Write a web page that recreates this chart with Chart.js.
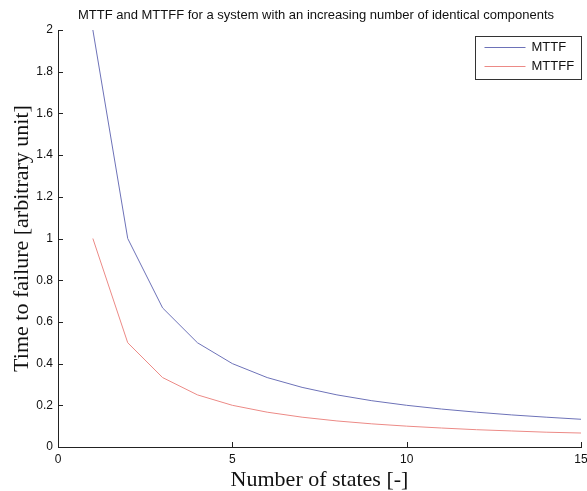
<!DOCTYPE html>
<html>
<head>
<meta charset="utf-8">
<script src="https://cdn.jsdelivr.net/npm/chart.js@4.4.1/dist/chart.umd.min.js"></script>
<style>
  html, body { margin: 0; padding: 0; background: #fff; }
  #wrap { width: 587px; height: 491px; position: relative; }
</style>
</head>
<body>
<div id="wrap"><canvas id="c"></canvas></div>
<script>
// ── Data ──────────────────────────────────────────────────────
const states = [1, 2, 3, 4, 5, 6, 7, 8, 9, 10, 11, 12, 13, 14, 15];
const mttf   = [2, 1, 0.667, 0.5, 0.4, 0.333, 0.286, 0.25, 0.222, 0.2, 0.182, 0.167, 0.154, 0.143, 0.133];
const mttff  = [1, 0.5, 0.333, 0.25, 0.2, 0.167, 0.143, 0.125, 0.111, 0.1, 0.091, 0.083, 0.077, 0.071, 0.067];
const xTicks = [0, 5, 10, 15];
const yTicks = [0, 0.2, 0.4, 0.6, 0.8, 1, 1.2, 1.4, 1.6, 1.8, 2];
const seriesNames = ['MTTF', 'MTTFF'];
const seriesColors = ['#6d72b8', '#ec8a86'];
const chartTitle = 'MTTF and MTTFF for a system with an increasing number of identical components';

const SANS = '"Liberation Sans", Arial, sans-serif';
const SERIF = '"Liberation Serif", "Times New Roman", serif';

// title, inward ticks (MATLAB style) and boxed legend
const matlabDecor = {
    id: 'matlabDecor',
    afterDraw(chart) {
        const { ctx, chartArea: a, scales: { x, y } } = chart;
        ctx.save();

        ctx.font = '13px ' + SANS;
        ctx.fillStyle = '#111';
        ctx.textAlign = 'center';
        ctx.textBaseline = 'middle';
        ctx.fillText(chartTitle, 316, 15);

        ctx.strokeStyle = '#222';
        ctx.lineWidth = 1;
        ctx.beginPath();
        yTicks.forEach(v => {
            const py = Math.round(y.getPixelForValue(v)) + 0.5;
            ctx.moveTo(a.left, py); ctx.lineTo(a.left + 5, py);
        });
        xTicks.forEach(v => {
            const px = Math.round(x.getPixelForValue(v)) + 0.5;
            ctx.moveTo(px, a.bottom); ctx.lineTo(px, a.bottom - 5);
        });
        ctx.stroke();

        // legend
        const bx = 475.5, by = 36.5, bw = 106, bh = 43;
        ctx.strokeStyle = '#333';
        ctx.strokeRect(bx, by, bw, bh);
        ctx.textAlign = 'left';
        seriesNames.forEach((n, i) => {
            const ly = by + 11 + i * 19;
            ctx.strokeStyle = seriesColors[i];
            ctx.beginPath();
            ctx.moveTo(bx + 9, ly); ctx.lineTo(bx + 50, ly);
            ctx.stroke();
            ctx.fillText(n, bx + 56, ly);
        });
        ctx.restore();
    }
};

const fmtTick = v => String(+Number(v).toFixed(1));

new Chart(document.getElementById('c'), {
    type: 'line',
    data: {
        datasets: seriesNames.map((n, i) => ({
            label: n,
            data: states.map((s, k) => ({ x: s, y: (i === 0 ? mttf : mttff)[k] })),
            borderColor: seriesColors[i],
            borderWidth: 1,
            pointRadius: 0,
            fill: false,
            tension: 0,
        })),
    },
    options: {
        responsive: true, maintainAspectRatio: false, animation: false,
        layout: { padding: { left: 0, right: 6, top: 30, bottom: 0 } },
        plugins: {
            legend: { display: false },
            tooltip: { enabled: false },
            title: { display: false },
        },
        scales: {
            x: {
                type: 'linear', min: 0, max: 15,
                afterBuildTicks: s => { s.ticks = xTicks.map(v => ({ value: v })); },
                afterFit: s => { s.height = 44; s.paddingLeft = 0; s.paddingRight = 0; },
                grid: { drawOnChartArea: false, drawTicks: false },
                border: { display: true, color: '#222', width: 1 },
                ticks: { color: '#111', font: { family: SANS, size: 12 }, padding: 5, maxRotation: 0, callback: fmtTick },
                title: {
                    display: true, text: 'Number of states [-]', color: '#111',
                    font: { family: SERIF, size: 22, lineHeight: 1 }, padding: { top: 0, bottom: 0 },
                },
            },
            y: {
                type: 'linear', min: 0, max: 2,
                afterBuildTicks: s => { s.ticks = yTicks.map(v => ({ value: v })); },
                afterFit: s => { s.width = 58; s.paddingTop = 0; s.paddingBottom = 0; },
                grid: { drawOnChartArea: false, drawTicks: false },
                border: { display: true, color: '#222', width: 1 },
                ticks: { color: '#111', font: { family: SANS, size: 12 }, padding: 5, callback: fmtTick },
                title: {
                    display: true, text: 'Time to failure [arbitrary unit]', color: '#111',
                    font: { family: SERIF, size: 22, lineHeight: 1 }, padding: { top: 11, bottom: 0 },
                },
            },
        },
    },
    plugins: [matlabDecor],
});
</script>
</body>
</html>
